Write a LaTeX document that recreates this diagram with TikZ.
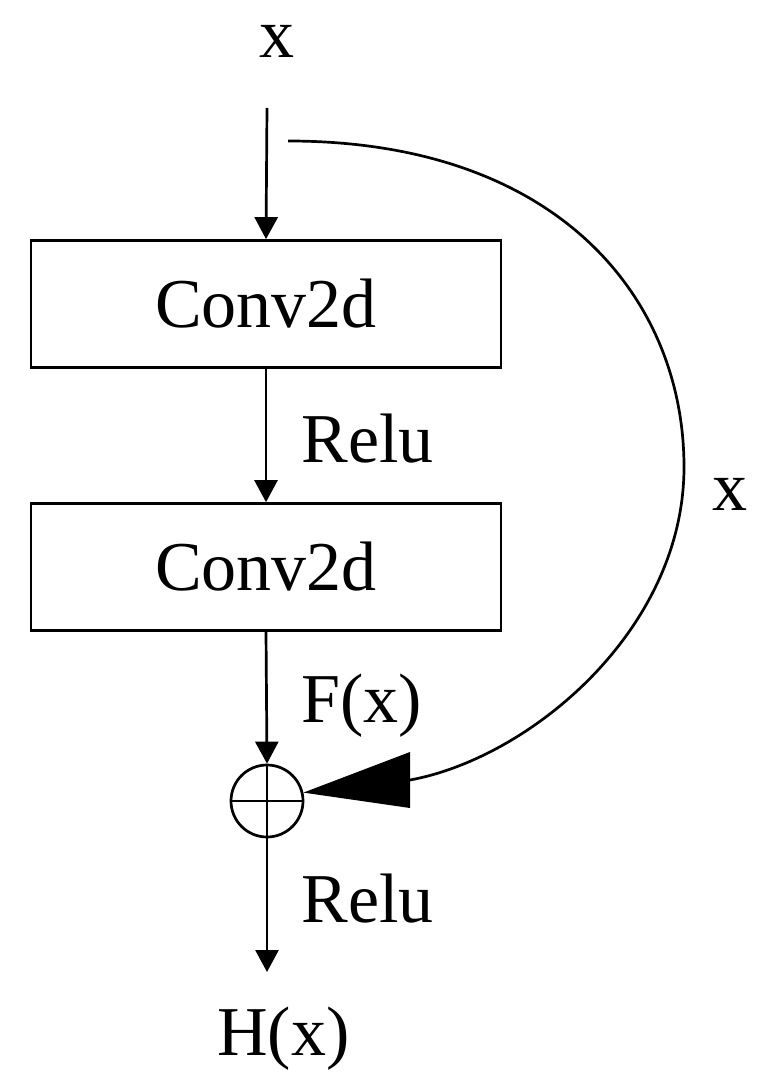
\documentclass[tikz,border=0pt]{standalone}
\usepackage{fontspec}
\setmainfont{Liberation Serif}
\usetikzlibrary{arrows.meta}
\begin{document}
\begin{tikzpicture}[x=0.5pt,y=-0.5pt, line width=1.35pt,
  font=\fontsize{35}{42}\selectfont,
  conv/.style={draw, minimum width=235pt, minimum height=63.5pt, inner sep=0pt},
  arr/.style={-{Triangle[width=11.5pt,length=11pt]}},
  lbl/.style={anchor=base west, inner sep=0pt},
  lblc/.style={anchor=base, inner sep=0pt}]
\useasboundingbox (0,0) rectangle (768,1091);
\node[conv] (c1) at (266,304) {Conv2d};
\node[conv] (c2) at (266,567) {Conv2d};
\node[circle, draw, minimum size=36pt, inner sep=0pt] (sum) at (267,801) {};
\draw (sum.north) -- (sum.south) (sum.west) -- (sum.east);
\coordinate (in) at (267,108);
\coordinate (out) at (267,972);
\coordinate (xs) at (288,141);
\coordinate (xm) at (684,467);
\coordinate (tb) at (410,780);
\draw[arr] (in) -- (c1.north);
\draw[arr] (c1.south) -- (c2.north);
\draw[arr] (c2.south) -- (sum.north);
\draw[arr] (sum.south) -- (out);
\draw (xs) .. controls (560,141) and (684,300) .. (xm) .. controls (684,630) and (530,758) .. (tb);
\fill (410,752) -- (sum.13) -- (410,808) -- cycle;
\node[lblc] (lx) at (277,58) {x};
\node[lbl] (r1) at (300,462) {Relu};
\node[lbl] (fx) at (300,722) {F(x)};
\node[lbl] (r2) at (300,922) {Relu};
\node[lbl] (hx) at (216,1055) {H(x)};
\node[lblc] (rx) at (730,510) {x};
\end{tikzpicture}
\end{document}
